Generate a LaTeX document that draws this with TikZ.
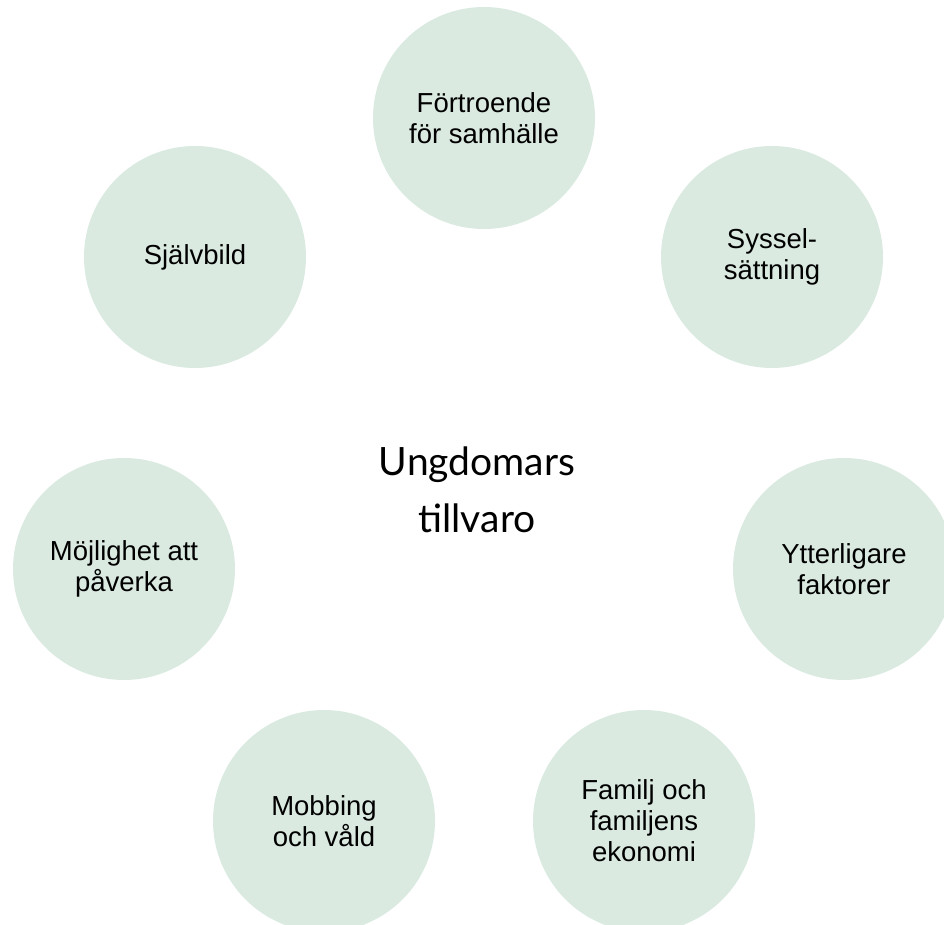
\documentclass[tikz,border=0pt]{standalone}
\usepackage{fontspec}
\setmainfont{Liberation Sans}
\newfontfamily\centerfont{Lato}
\definecolor{bubblegreen}{RGB}{218,234,225}
\begin{document}
\begin{tikzpicture}[x=1pt,y=-1pt,
  bubble/.style={circle, fill=bubblegreen, minimum size=222pt, inner sep=0pt,
    align=center, text=black, font=\fontsize{27.5}{31}\selectfont},
  hub/.style={align=center, text=black, font=\centerfont\fontsize{39}{57}\selectfont}]
\useasboundingbox (0,0) rectangle (944,925);
\clip (0,0) rectangle (944,925);
\node[bubble] (n1) at (484,118) {Förtroende\\för samhälle};
\node[bubble] (n2) at (772,257) {Syssel-\\sättning};
\node[bubble] (n3) at (844,569) {Ytterligare\\faktorer};
\node[bubble] (n4) at (644,821) {Familj och\\familjens\\ekonomi};
\node[bubble] (n5) at (324,821) {Mobbing\\och våld};
\node[bubble] (n6) at (124,569) {Möjlighet att\\påverka};
\node[bubble] (n7) at (195,257) {Självbild};
\node[hub] (c) at (477,490) {Ungdomars\\tillvaro};
\end{tikzpicture}
\end{document}
